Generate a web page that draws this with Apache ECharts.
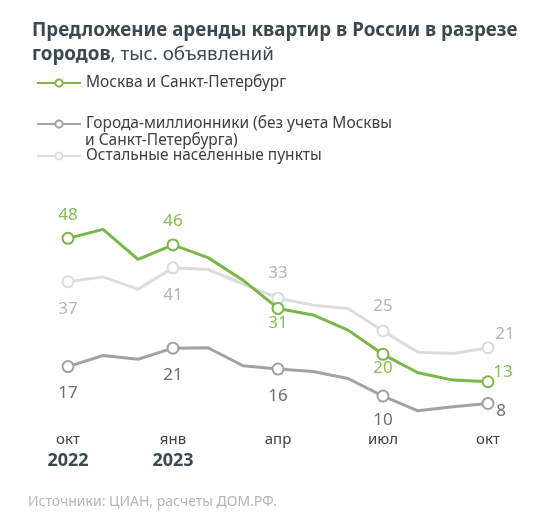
<!DOCTYPE html>
<html>
<head>
<meta charset="utf-8">
<script src="https://cdn.jsdelivr.net/npm/echarts@6/dist/echarts.min.js"></script>
<style>
html,body{margin:0;padding:0;background:#fff;}
#chart{width:537px;height:529px;}
</style>
</head>
<body>
<div id="chart"></div>
<script>
// ---- data ----
const categories = ['окт 2022','ноя 2022','дек 2022','янв 2023','фев 2023','мар 2023','апр 2023','май 2023','июн 2023','июл 2023','авг 2023','сен 2023','окт 2023'];
const moscowSpb   = [48.0, 50.2, 42.9, 46.4, 43.3, 37.8, 30.9, 29.3, 25.6, 19.7, 15.2, 13.4, 13.0];
const millionCities = [16.7, 19.4, 18.5, 21.2, 21.3, 16.9, 16.1, 15.5, 13.8, 9.5, 5.9, 6.9, 7.7];
const otherPlaces = [37.4, 38.6, 35.6, 40.8, 40.4, 36.9, 33.4, 31.7, 30.9, 25.4, 20.2, 19.9, 21.3];
const seriesNames = ['Москва и Санкт-Петербург', 'Города-миллионники (без учета Москвы', 'Остальные населенные пункты'];
const titleBold1 = 'Предложение аренды квартир в России в разрезе';
const titleBold2 = 'городов';
const titleRest = ', тыс. объявлений';
const sourceText = 'Источники: ЦИАН, расчеты ДОМ.РФ.';
const legendSecondLine = 'и Санкт-Петербурга)';

// ---- styling ----
const FONT = 'Noto Sans';
const colors = ['#7ab648', '#a2a2a2', '#dcdcdc'];
const labelColors = ['#86bd4f', '#6e6e6e', '#b6b6b6'];
// label offsets (relative to point) for quarterly points 0,3,6,9,12
const labelOffsets = [
  [[0,-23],[0,-24],[0,15],[0,14],[15,-10]],
  [[0,27],[0,27],[0,27],[0,24],[13,8]],
  [[0,27],[0,27],[0,-25],[0,-25],[17,-14]]
];

function buildData(values, si) {
  return values.map((v, i) => {
    if (i % 3 !== 0) return { value: v, symbol: 'none', label: { show: false } };
    const q = i / 3;
    return {
      value: v,
      label: {
        show: true,
        position: 'inside',
        offset: labelOffsets[si][q],
        formatter: p => String(Math.round(p.value)),
        color: labelColors[si],
        fontSize: 17,
        fontFamily: FONT
      }
    };
  });
}

const allValues = [moscowSpb, millionCities, otherPlaces];
const series = allValues.map((vals, si) => ({
  name: seriesNames[si],
  type: 'line',
  data: buildData(vals, si),
  symbol: 'emptyCircle',
  symbolSize: 11,
  showAllSymbol: true,
  z: 10 - si,
  lineStyle: { color: colors[si], width: 3 },
  itemStyle: { color: colors[si], borderWidth: 2, borderColor: colors[si] },
  emphasis: { disabled: true },
  animation: false
}));

const legendTops = [75, 116, 148];
const legends = seriesNames.map((n, i) => ({
  data: [n],
  left: 36,
  top: legendTops[i],
  padding: 0,
  itemWidth: 44,
  itemHeight: 9,
  selectedMode: false,
  textStyle: { fontSize: 15.5, color: '#404040', fontFamily: FONT }
}));

const chart = echarts.init(document.getElementById('chart'), null, { renderer: 'canvas' });
chart.setOption({
  animation: false,
  backgroundColor: '#fff',
  title: {
    left: 27, top: 14,
    text: '{b|' + titleBold1 + '}\n{b|' + titleBold2 + '}{n|' + titleRest + '}',
    textStyle: {
      rich: {
        b: { fontSize: 18.8, fontWeight: 'bold', color: '#3b4850', fontFamily: FONT, lineHeight: 24 },
        n: { fontSize: 18.8, fontWeight: 'normal', color: '#3b4850', fontFamily: FONT, lineHeight: 24 }
      }
    }
  },
  legend: legends,
  graphic: [
    { type: 'text', left: 85, top: 133, style: { text: legendSecondLine, fontSize: 15.5, fill: '#404040', fontFamily: FONT } },
    { type: 'text', left: 28, top: 495, style: { text: sourceText, fontSize: 14, fill: '#b5b5b5', fontFamily: FONT } }
  ],
  grid: { left: 68, right: 49, top: 209.7, bottom: 94, containLabel: false },
  xAxis: {
    type: 'category',
    data: categories,
    boundaryGap: false,
    axisLine: { show: false },
    axisTick: { show: false },
    splitLine: { show: false },
    axisLabel: {
      interval: 2,
      margin: -4,
      formatter: (value, idx) => {
        const [m, y] = value.split(' ');
        const showYear = idx === 0 || m === 'янв';
        return '{m|' + m + '}' + (showYear ? '\n{y|' + y + '}' : '');
      },
      rich: {
        m: { fontSize: 15, color: '#404040', fontFamily: FONT, lineHeight: 18 },
        y: { fontSize: 18, fontWeight: 'bold', color: '#3b4850', fontFamily: FONT, lineHeight: 24 }
      }
    }
  },
  yAxis: {
    type: 'value', min: 0, max: 55, show: false,
    splitLine: { show: false }
  },
  series: series
});
</script>
</body>
</html>
